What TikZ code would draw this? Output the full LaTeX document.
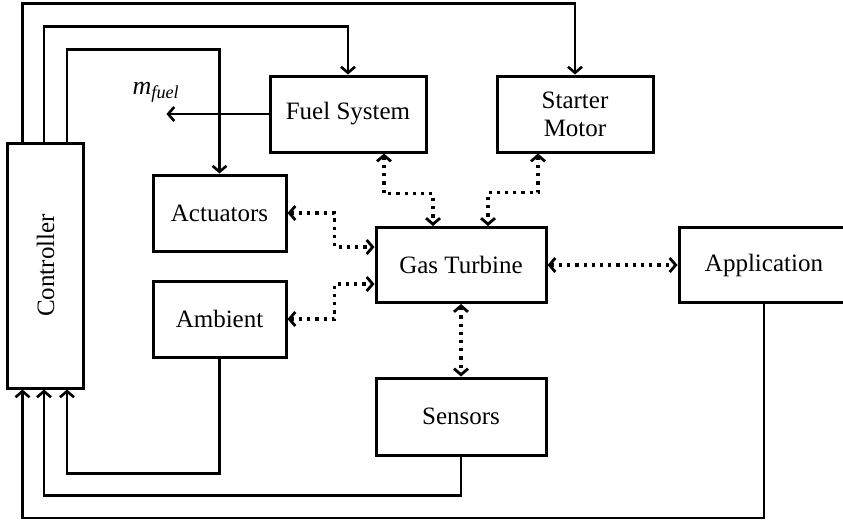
\documentclass[tikz,border=0pt]{standalone}
\usepackage{fontspec}
\setmainfont{Liberation Serif}
\usetikzlibrary{arrows.meta}
\begin{document}
\begin{tikzpicture}[x=1pt,y=-1pt,
  box/.style={draw,line width=3pt,inner sep=0pt,font=\fontsize{25}{28}\selectfont,align=center},
  arr/.style={line width=2.8pt,-{Straight Barb[length=6pt,width=14pt,line width=2.6pt]}},
  dotarr/.style={line width=3.2pt,dash pattern=on 3.2pt off 5pt,
     {Straight Barb[length=6pt,width=14pt,line width=2.8pt]}-{Straight Barb[length=6pt,width=14pt,line width=2.8pt]}}]
\useasboundingbox (0,0) rectangle (843,520);
\node[box,minimum width=76,minimum height=245] (ctrl) at (45.5,265.5) {\rotatebox{90}{Controller}};
\node[box,minimum width=156,minimum height=76] (fuel) at (348,114) {Fuel System};
\node[box,minimum width=156,minimum height=76] (start) at (575,114) {Starter\\Motor};
\node[box,minimum width=133,minimum height=76] (act) at (219.5,213) {Actuators};
\node[box,minimum width=133,minimum height=76] (amb) at (219.5,319) {Ambient};
\node[box,minimum width=170,minimum height=75] (gt) at (461,265) {Gas Turbine};
\node[box,minimum width=170,minimum height=75] (app) at (764,265) {Application};
\node[box,minimum width=170,minimum height=77] (sens) at (461,416.5) {Sensors};
\node[font=\fontsize{26}{28}\selectfont] (mf) at (156,92) {\textit{m}\textsubscript{\textit{fuel}}};
% controller outputs
\draw[arr] ([xshift=-23]ctrl.north) -- ++(0,-138) -| (start.north);
\draw[arr] ([xshift=-1.5]ctrl.north) -- ++(0,-115) -| (fuel.north);
\draw[arr] ([xshift=21.5]ctrl.north) -- ++(0,-92) -| (act.north);
\draw[arr] (fuel.west) -- ++(-102,0);
% dotted links
\draw[dotarr] ([xshift=36]fuel.south) -- ++(0,40) -| ([xshift=-28]gt.north);
\draw[dotarr] ([xshift=-37]start.south) -- ++(0,39) -| ([xshift=27]gt.north);
\draw[dotarr] (act.east) -- ++(47,0) |- ([yshift=18]gt.west);
\draw[dotarr] (amb.east) -- ++(47,0) |- ([yshift=-19]gt.west);
\draw[dotarr] (gt.east) -- (app.west);
\draw[dotarr] (gt.south) -- (sens.north);
% feedback
\draw[arr] (amb.south) -- ++(0,115) -| ([xshift=21.5]ctrl.south);
\draw[arr] (sens.south) -- ++(0,39) -| ([xshift=-1.5]ctrl.south);
\draw[arr] (app.south) -- ++(0,214) -| ([xshift=-23]ctrl.south);
\end{tikzpicture}
\end{document}
